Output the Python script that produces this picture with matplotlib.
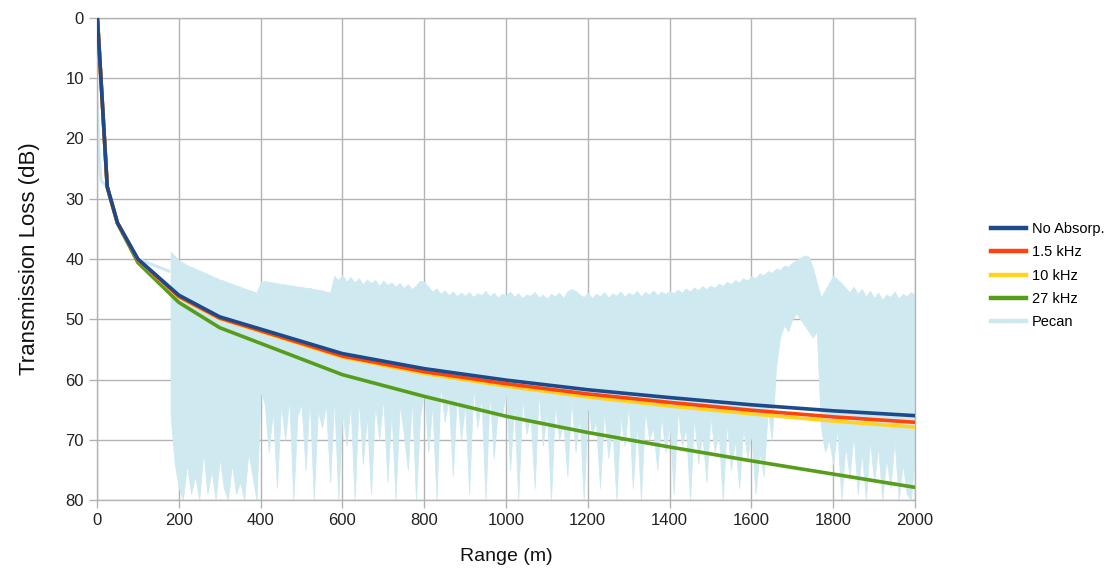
import numpy as np
import matplotlib
matplotlib.use("Agg")
import matplotlib.pyplot as plt
from matplotlib.lines import Line2D

plt.rcParams['font.family'] = ['Liberation Sans', 'DejaVu Sans']

# ---- data ----
ranges = [1, 25, 50, 100, 200, 300, 600, 800, 1000, 1200, 1400, 1600, 1800, 2000]
tl_noabs = [0, 28.0, 34.0, 40.0, 46.0, 49.6, 55.7, 58.2, 60.1, 61.7, 63.0, 64.2, 65.2, 66.0]
tl_1k5 = [0, 28.0, 34.0, 40.1, 46.2, 49.8, 56.1, 58.7, 60.7, 62.4, 63.8, 65.1, 66.2, 67.1]
tl_10k = [0, 28.0, 34.0, 40.1, 46.3, 49.9, 56.3, 59.0, 61.1, 62.9, 64.4, 65.7, 66.9, 67.9]
tl_27k = [0, 28.1, 34.1, 40.6, 47.2, 51.4, 59.2, 62.8, 66.1, 68.8, 71.2, 73.5, 75.7, 77.9]

# Pecan: near-field start
pecan_start_r = [1, 3, 6, 10, 25, 50, 100, 175]
pecan_start_tl = [14, 19, 24, 27, 28, 34, 40, 42]

# Pecan: oscillating band, sampled every 10 m from 180 m to 2000 m
pecan_r = np.arange(180, 2001, 10)
pecan_top = [
    38.8, 39.5,
    40.2, 40.6, 41.0, 41.3, 41.6, 41.9, 42.2, 42.5, 42.8, 43.1,
    43.4, 43.6, 43.9, 44.1, 44.4, 44.6, 44.9, 45.1, 45.3, 45.6,
    43.9, 43.6, 43.8, 43.9, 44.0, 44.2, 44.2, 44.4, 44.4, 44.6,
    44.6, 44.8, 44.8, 45.0, 45.1, 45.2, 45.4, 45.6, 42.8, 43.5,
    42.6, 43.8, 43.0, 43.9, 43.2, 44.2, 43.4, 44.0, 43.5, 44.5,
    43.6, 44.3, 43.9, 44.6, 44.0, 44.8, 44.2, 45.0, 44.4, 43.6,
    43.8, 44.6, 45.4, 44.9, 45.8, 45.2, 46.0, 45.4, 46.2, 45.6,
    46.1, 45.5, 46.3, 45.7, 46.0, 45.3, 46.2, 45.6, 46.4, 45.8,
    46.0, 45.4, 46.3, 45.7, 46.5, 45.9, 46.1, 45.5, 46.4, 45.9,
    46.6, 45.8, 46.2, 45.6, 46.5, 45.4, 45.0, 45.3, 45.9, 46.3,
    45.6, 46.5, 45.8, 46.2, 45.5, 46.4, 45.7, 46.1, 45.4, 46.3,
    45.6, 46.0, 45.3, 46.2, 45.5, 45.9, 45.2, 46.0, 45.4, 45.8,
    45.3, 45.7, 45.1, 45.6, 44.9, 45.4, 44.7, 45.2, 44.5, 45.0,
    44.4, 44.8, 44.1, 44.5, 43.8, 44.2, 43.5, 43.9, 43.2, 43.6,
    42.8, 43.2, 42.4, 42.7, 42.0, 42.3, 41.6, 41.8, 41.1, 41.3,
    40.6, 40.2, 39.8, 39.4, 39.6, 41.4, 44.0, 46.4, 45.2, 44.0,
    42.8, 43.4, 44.0, 44.8, 45.5, 44.6, 45.8, 45.0, 46.2, 45.3,
    46.5, 45.6, 46.8, 45.9, 46.3, 45.4, 46.6, 45.8, 46.2, 45.5,
    46.0,
]
pecan_bot = [
    66, 74,
    78, 80, 74, 79, 76, 80, 72, 79, 75, 80,
    73, 78, 80, 74, 79, 77, 80, 72, 76, 80,
    62, 64, 72, 65, 78, 64, 70, 63, 80, 66,
    64, 75, 63, 80, 65, 68, 64, 77, 63, 80,
    65, 71, 64, 80, 63, 74, 66, 79, 64, 70,
    63, 77, 65, 80, 64, 69, 75, 63, 80, 66,
    62, 72, 64, 80, 61, 67, 63, 76, 62, 70,
    64, 79, 61, 68, 63, 80, 62, 73, 65, 66,
    62, 75, 64, 80, 63, 69, 66, 78, 62, 71,
    65, 80, 64, 70, 67, 76, 63, 72, 66, 80,
    64, 69, 67, 78, 65, 73, 68, 80, 66, 71,
    64, 78, 67, 80, 65, 70, 68, 75, 66, 72,
    67, 79, 65, 71, 68, 80, 66, 74, 69, 77,
    66, 72, 69, 80, 67, 75, 70, 78, 68, 73,
    69, 79, 72, 76, 65, 70, 58, 53, 51, 52,
    50, 49, 50, 51, 52, 53, 52, 68, 72, 70,
    74, 68, 80, 71, 76, 69, 79, 72, 80, 70,
    77, 71, 80, 73, 78, 70, 80, 74, 79, 80,
    72,
]

series_labels = ["No Absorp.", "1.5 kHz", "10 kHz", "27 kHz", "Pecan"]
colors = ["#1c4a8a", "#ff420e", "#ffd320", "#579d1c", "#cfe9f1"]

x_ticks = list(range(0, 2001, 200))
y_ticks = list(range(0, 81, 10))

# ---- figure ----
fig = plt.figure(figsize=(11.10, 5.73), dpi=100)
ax = fig.add_axes([97/1110, 73/573, 818/1110, 482/573])

ax.fill_between(pecan_r, pecan_top, pecan_bot, color=colors[4],
                lw=0.6, edgecolor=colors[4], zorder=1)
ax.plot(pecan_start_r, pecan_start_tl, color=colors[4], lw=2.2, zorder=1)

ax.plot(ranges, tl_27k, color=colors[3], lw=2.6, zorder=3)
ax.plot(ranges, tl_10k, color=colors[2], lw=2.6, zorder=4)
ax.plot(ranges, tl_1k5, color=colors[1], lw=2.6, zorder=5)
ax.plot(ranges, tl_noabs, color=colors[0], lw=2.6, zorder=6)

ax.set_xlim(0, 2000)
ax.set_ylim(80, 0)
ax.set_xticks(x_ticks)
ax.set_yticks(y_ticks)
ax.tick_params(axis='both', labelsize=12, colors='#b3b3b3', labelcolor='#222222',
               length=6, width=1)
ax.grid(True, color='#b3b3b3', lw=1, zorder=0)
ax.set_axisbelow(True)
for s in ax.spines.values():
    s.set_color('#b3b3b3')
    s.set_linewidth(1)

ax.set_xlabel("Range (m)", fontsize=14, labelpad=14, color='#111111')
ax.set_ylabel("Transmission Loss (dB)", fontsize=16, labelpad=18, color='#111111')

handles = [Line2D([], [], color=c, lw=3.2) for c in colors]
fig.legend(handles, series_labels, loc='upper left',
           bbox_to_anchor=(978/1110, 1 - 209/573), frameon=False,
           fontsize=10.5, handlelength=2.4, labelspacing=0.64,
           handletextpad=0.4)

fig.savefig("out.png", dpi=100)
